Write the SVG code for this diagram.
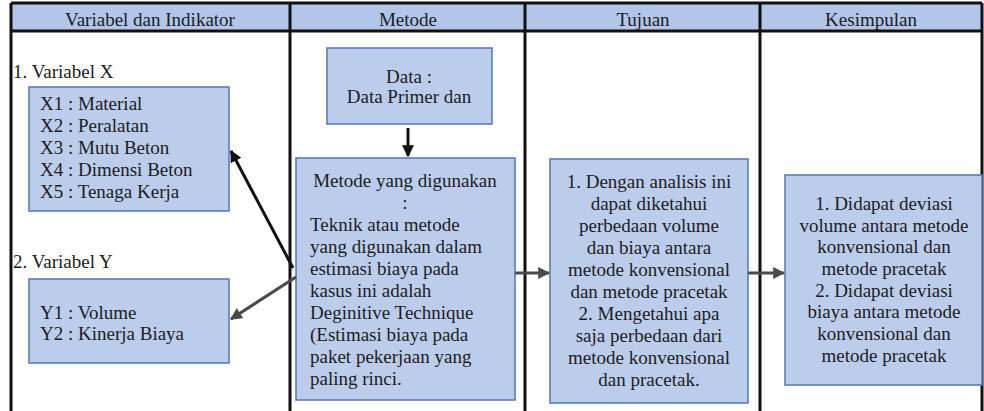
<svg xmlns="http://www.w3.org/2000/svg" width="984" height="411" viewBox="0 0 984 411">
<defs>
<style>
text{font-family:"Liberation Serif","Times New Roman",serif;font-size:19px;fill:#1c1c1c}
.hdr{fill:#b2c6ea}
.grid{stroke:#111;stroke-width:3;fill:none}
.box{fill:#bccdec;stroke:#5476b8;stroke-width:1.5}
.c{text-anchor:middle}
.conn{fill:none;stroke-width:3}
</style>
<marker id="ahB" viewBox="0 0 10 10" refX="9" refY="5" markerWidth="4" markerHeight="4" orient="auto" markerUnits="strokeWidth"><path d="M0,0 L10,5 L0,10 Z" fill="#111"/></marker>
<marker id="ahG" viewBox="0 0 10 10" refX="9" refY="5" markerWidth="4" markerHeight="4" orient="auto" markerUnits="strokeWidth"><path d="M0,0 L10,5 L0,10 Z" fill="#4a4a4a"/></marker>
</defs>
<rect width="984" height="411" fill="#fff"/>
<g id="header">
<rect class="hdr" x="11" y="3" width="971" height="28"/>
<text class="c" x="150" y="26">Variabel dan Indikator</text>
<text class="c" x="408" y="26">Metode</text>
<text class="c" x="643" y="26">Tujuan</text>
<text class="c" x="871" y="26">Kesimpulan</text>
</g>
<g id="grid">
<path class="grid" d="M11,3 H982 M11,31 H982 M11,3 V411 M982,3 V411 M290,3 V411 M525,3 V411 M760,3 V411"/>
</g>
<g id="label-x"><text x="13" y="78">1. Variabel X</text></g>
<g id="node-x">
<rect class="box" x="29" y="87" width="200" height="124"/>
<text x="40" y="110">X1 : Material</text>
<text x="40" y="132">X2 : Peralatan</text>
<text x="40" y="154">X3 : Mutu Beton</text>
<text x="40" y="176">X4 : Dimensi Beton</text>
<text x="40" y="198">X5 : Tenaga Kerja</text>
</g>
<g id="label-y"><text x="13" y="268">2. Variabel Y</text></g>
<g id="node-y">
<rect class="box" x="29" y="279" width="200" height="84"/>
<text x="40" y="319">Y1 : Volume</text>
<text x="40" y="340">Y2 : Kinerja Biaya</text>
</g>
<g id="node-data">
<rect class="box" x="327" y="48" width="165" height="76"/>
<text class="c" x="409" y="83">Data :</text>
<text class="c" x="409" y="103">Data Primer dan</text>
</g>
<g id="node-metode">
<rect class="box" x="296" y="158" width="219" height="242"/>
<text class="c" x="405" y="187">Metode yang digunakan</text>
<text class="c" x="405" y="209">:</text>
<text x="310" y="231">Teknik atau metode</text>
<text x="310" y="253">yang digunakan dalam</text>
<text x="310" y="275">estimasi biaya pada</text>
<text x="310" y="297">kasus ini adalah</text>
<text x="310" y="319">Deginitive Technique</text>
<text x="310" y="341">(Estimasi biaya pada</text>
<text x="310" y="363">paket pekerjaan yang</text>
<text x="310" y="385">paling rinci.</text>
</g>
<g id="node-tujuan">
<rect class="box" x="550" y="159" width="198" height="244"/>
<text class="c" x="649" y="188">1. Dengan analisis ini</text>
<text class="c" x="649" y="210">dapat diketahui</text>
<text class="c" x="649" y="232">perbedaan volume</text>
<text class="c" x="649" y="254">dan biaya antara</text>
<text class="c" x="649" y="276">metode konvensional</text>
<text class="c" x="649" y="298">dan metode pracetak</text>
<text class="c" x="649" y="320">2. Mengetahui apa</text>
<text class="c" x="649" y="342">saja perbedaan dari</text>
<text class="c" x="649" y="364">metode konvensional</text>
<text class="c" x="649" y="386">dan pracetak.</text>
</g>
<g id="node-kesimpulan">
<rect class="box" x="785" y="175" width="197" height="210"/>
<text class="c" x="884" y="210">1. Didapat deviasi</text>
<text class="c" x="884" y="232">volume antara metode</text>
<text class="c" x="884" y="253">konvensional dan</text>
<text class="c" x="884" y="275">metode pracetak</text>
<text class="c" x="884" y="297">2. Didapat deviasi</text>
<text class="c" x="884" y="318">biaya antara metode</text>
<text class="c" x="884" y="340">konvensional dan</text>
<text class="c" x="884" y="362">metode pracetak</text>
</g>
<g id="connectors">
<line class="conn" x1="408" y1="128" x2="408" y2="156" stroke="#111" marker-end="url(#ahB)"/>
<line class="conn" x1="293" y1="268" x2="231" y2="151" stroke="#111" marker-end="url(#ahB)"/>
<line class="conn" x1="296" y1="277" x2="231" y2="319" stroke="#4a4a4a" marker-end="url(#ahG)"/>
<line class="conn" x1="515" y1="273" x2="549" y2="273" stroke="#4a4a4a" marker-end="url(#ahG)"/>
<line class="conn" x1="748" y1="273" x2="784" y2="273" stroke="#4a4a4a" marker-end="url(#ahG)"/>
</g>
</svg>
